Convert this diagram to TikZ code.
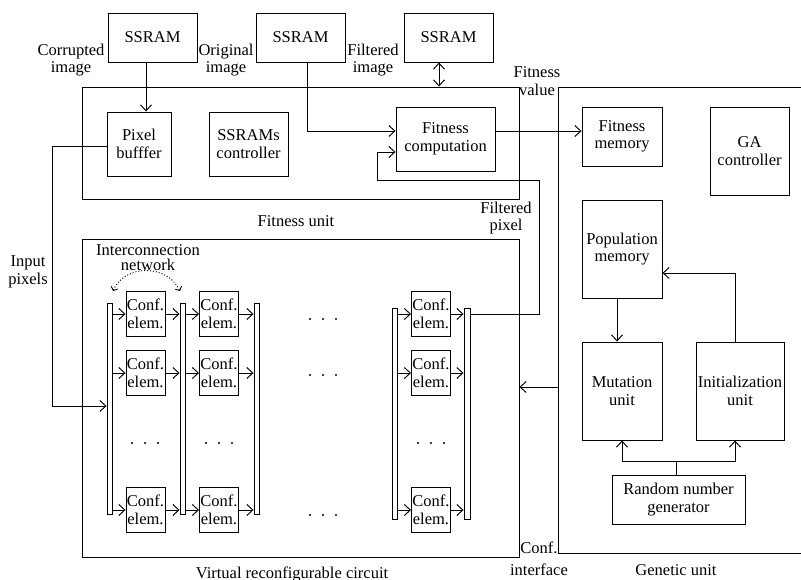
\documentclass[tikz,border=0pt]{standalone}
\usepackage{fontspec}
\setmainfont{Liberation Serif}
\usetikzlibrary{arrows.meta,calc}
\begin{document}
\begin{tikzpicture}[x=1pt,y=-1pt,
  line width=0.95pt,
  >={Straight Barb[length=6pt,width=11pt,line width=0.95pt]},
  box/.style={draw, align=center, inner sep=0pt, font=\fontsize{16.5}{17.5}\selectfont},
  frame/.style={draw, inner sep=0pt},
  bar/.style={draw, inner sep=0pt, minimum width=5pt},
  ce/.style={box, minimum width=39pt, minimum height=45pt},
  lbl/.style={align=center, inner sep=0pt, font=\fontsize{16.5}{17.5}\selectfont}
]
\useasboundingbox (0,0) rectangle (801,580);

% top SSRAMs
\node[box, minimum width=89pt, minimum height=49pt] (ssram1) at (152.5,37.5) {SSRAM};
\node[box, minimum width=89pt, minimum height=49pt] (ssram2) at (300.5,37.5) {SSRAM};
\node[box, minimum width=89pt, minimum height=49pt] (ssram3) at (448.5,37.5) {SSRAM};

% fitness unit
\node[frame, minimum width=437pt, minimum height=112pt] (fu) at (300.5,143) {};
\node[box, minimum width=64pt, minimum height=64pt] (pixbuf) at (139,144) {Pixel\\bufffer};
\node[box, minimum width=79pt, minimum height=64pt] (ssramctl) at (248.5,144) {SSRAMs\\controller};
\node[box, minimum width=99pt, minimum height=64pt] (fitcomp) at (445.5,139) {Fitness\\computation};

% genetic unit
\draw (801,87) -- (558,87) -- (558,553) -- (801,553);
\coordinate (gu) at (558,387);
\node[box, minimum width=80pt, minimum height=59pt] (fitmem) at (622,136.5) {Fitness\\memory};
\node[box, minimum width=79pt, minimum height=88pt] (gactl) at (749.5,151) {GA\\controller};
\node[box, minimum width=80pt, minimum height=98pt] (popmem) at (622,249) {Population\\memory};
\node[box, minimum width=80pt, minimum height=98pt] (mut) at (622,391) {Mutation\\unit};
\node[box, minimum width=88pt, minimum height=98pt] (init) at (740,391) {Initialization\\unit};
\node[box, minimum width=133pt, minimum height=49pt] (rng) at (678.5,499.5) {Random number\\generator};
\coordinate (rj) at (676,461);

% virtual reconfigurable circuit
\node[frame, minimum width=437pt, minimum height=318pt] (vrc) at (300.5,398) {};
\node[bar, minimum height=211pt] (b1) at (109.5,408.5) {};
\node[bar, minimum height=211pt] (b2) at (182.5,408.5) {};
\node[bar, minimum height=211pt] (b3) at (256.5,408.5) {};
\node[bar, minimum height=211pt] (b4) at (394.5,413.5) {};
\node[bar, minimum height=211pt, minimum width=6pt] (b5) at (467,413.5) {};

\node[ce] (c11) at (145.5,314) {Conf.\\elem.};
\node[ce] (c12) at (145.5,373) {Conf.\\elem.};
\node[ce] (c13) at (145.5,510) {Conf.\\elem.};
\node[ce] (c21) at (219,314) {Conf.\\elem.};
\node[ce] (c22) at (219,373) {Conf.\\elem.};
\node[ce] (c23) at (219,510) {Conf.\\elem.};
\node[ce] (c31) at (431,314) {Conf.\\elem.};
\node[ce] (c32) at (431,373) {Conf.\\elem.};
\node[ce] (c33) at (431,510) {Conf.\\elem.};

\foreach \r in {1,2,3}{
  \draw[->] (b1.east |- c1\r.west) -- (c1\r.west);
  \draw[->] (c1\r.east) -- (b2.west |- c1\r.east);
  \draw[->] (b2.east |- c2\r.west) -- (c2\r.west);
  \draw[->] (c2\r.east) -- (b3.west |- c2\r.east);
  \draw[->] (b4.east |- c3\r.west) -- (c3\r.west);
  \draw[->] (c3\r.east) -- (b5.west |- c3\r.east);
}

% dots
\foreach \x/\y in {145/443, 219/443, 431/443, 323/319, 323/375, 323/515}{
  \foreach \d in {-13,0,13}{
    \fill (\x+\d,\y) circle (1.2pt);
  }
}

% interconnection network dotted arrows
\draw[dotted, <->, >={Straight Barb[length=3pt,width=7pt,line width=0.9pt]}]
  (113,291) .. controls (125,264) and (167,264) .. (180,291);

% connectors
\draw[->] ([xshift=-6.5pt]ssram1.south) -- ([xshift=7pt]pixbuf.north);
\draw[->] ([xshift=6.5pt]ssram2.south) |- ([yshift=8pt]fitcomp.west);
\draw[<->] ([xshift=-9.5pt]ssram3.south) -- ([xshift=-9.5pt]ssram3.south |- fu.north);
\draw[->] ([yshift=8pt]fitcomp.east) -- ([yshift=8pt]fitcomp.east -| fitmem.west);

\coordinate (fpA) at (539,180);
\coordinate (fpB) at (377,180);
\draw[->] (b5.east |- c31.center) -| (fpA) -- (fpB) |- ([yshift=-13pt]fitcomp.west);

\coordinate (ipA) at (52,406);
\draw[->] ([yshift=-2pt]pixbuf.west) -| (ipA) -- (ipA -| b1.west);

\draw[->] (gu) -- (gu -| vrc.east);

\draw[->] ([xshift=-5pt]popmem.south) -- ([xshift=-5pt]mut.north);
\draw[->] ([xshift=-5pt]init.north) |- ([yshift=-24pt]popmem.east);
\draw ([xshift=-2.5pt]rng.north) -- (rj);
\draw[->] (rj) -| (mut.south);
\draw[->] (rj) -| ([xshift=-5pt]init.south);

% labels
\node[lbl] (lcor) at (71,60) {Corrupted\\image};
\node[lbl] (lorig) at (226,60) {Original\\image};
\node[lbl] (lfilt) at (373,60) {Filtered\\image};
\node[lbl] (lfv) at (537,81) {Fitness\\value};
\node[lbl] (lfu) at (296,221) {Fitness unit};
\node[lbl] (lfp) at (506,218) {Filtered\\pixel};
\node[lbl] (lin) at (28,272) {Input\\pixels};
\node[lbl, font=\fontsize{16.5}{15}\selectfont] (lic) at (148,258) {Interconnection\\network};
\node[lbl] (lvrc) at (292,574) {Virtual reconfigurable circuit};
\node[lbl] (lci) at (539,559) {Conf.\\[5pt]interface};
\node[lbl] (lgu) at (676,570) {Genetic unit};
\end{tikzpicture}
\end{document}
